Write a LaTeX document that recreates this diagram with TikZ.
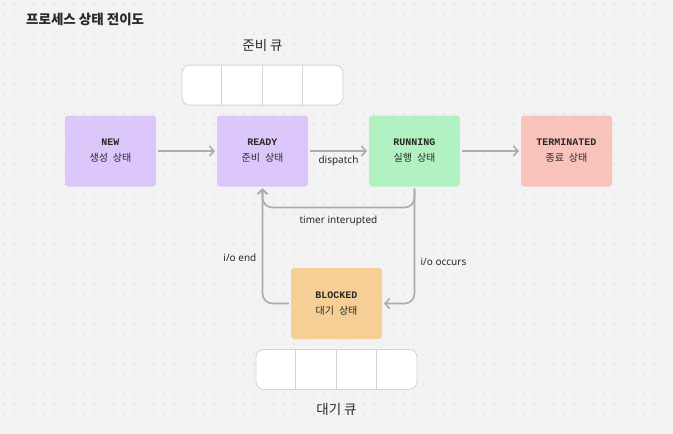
\documentclass[tikz,border=0pt]{standalone}
\usepackage{fontspec}
\setmainfont{Noto Sans}
\setmonofont{Liberation Mono}
\newfontfamily\kr{Noto Sans CJK KR}
\usepackage{xcolor}
\definecolor{bgpaper}{RGB}{243, 243, 243}
\definecolor{griddot}{RGB}{190, 190, 190}
\definecolor{textdark}{RGB}{40, 40, 40}
\definecolor{arrowgray}{RGB}{172, 172, 172}
\definecolor{queueline}{RGB}{212, 212, 212}
\definecolor{lavender}{RGB}{220, 199, 251}
\definecolor{mintgreen}{RGB}{178, 242, 194}
\definecolor{salmonred}{RGB}{248, 195, 187}
\definecolor{peach}{RGB}{246, 207, 150}
\usepackage{tikz}
\usetikzlibrary{arrows.meta, positioning}

\begin{document}
\begin{tikzpicture}[
        x=1pt, y=-1pt,
        node distance=57pt,
        state/.style={
            rectangle,
            rounded corners=3pt,
            minimum width=91pt,
            minimum height=71pt,
            align=center,
            text=textdark,
            outer sep=2pt,
            font=\fontsize{10}{16}\selectfont
        },
        queue/.style={
            rectangle,
            draw=queueline,
            line width=0.8pt,
            fill=white,
            rounded corners=8pt,
            minimum width=161pt,
            minimum height=40pt
        },
        qlabel/.style={
            inner sep=0pt,
            text=textdark,
            font=\kr\fontsize{13.5}{14}\selectfont
        },
        edgelabel/.style={
            text=textdark,
            font=\fontsize{10}{11}\selectfont
        },
        arrow/.style={
            -{Straight Barb[length=4.5pt, width=10pt]},
            line width=1.6pt,
            draw=arrowgray
        }
    ]
        % Background
        \useasboundingbox (0,0) rectangle (673,434);
        \fill[bgpaper] (0,0) rectangle (673,434);
        \foreach \i in {0,...,67} {
            \foreach \j in {0,...,43} {
                \fill[griddot] (4+10*\i, 4+10*\j) circle (0.55pt);
            }
        }

        % Title
        \node[anchor=west, inner sep=0pt, text=textdark, font=\kr\bfseries\fontsize{13.5}{14}\selectfont] (title) at (26,19) {프로세스 상태 전이도};

        % Nodes
        \node[state, fill=lavender] (new) at (110.5,151) {\texttt{\textbf{NEW}}\\{\kr 생성\enspace 상태}};
        \node[state, fill=lavender, right=of new] (ready) {\texttt{\textbf{READY}}\\{\kr 준비\enspace 상태}};
        \node[state, fill=mintgreen, right=of ready] (running) {\texttt{\textbf{RUNNING}}\\{\kr 실행\enspace 상태}};
        \node[state, fill=salmonred, right=of running] (terminated) {\texttt{\textbf{TERMINATED}}\\{\kr 종료\enspace 상태}};
        \node[state, fill=peach] (blocked) at (336.5,303.5) {\texttt{\textbf{BLOCKED}}\\{\kr 대기\enspace 상태}};

        % Queues
        \node[queue, above=8pt of ready] (readyq) {};
        \foreach \k in {1,2,3}
            \draw[queueline, line width=0.8pt] ([xshift=40.25*\k]readyq.north west) -- ([xshift=40.25*\k]readyq.south west);
        \node[qlabel, above=13pt of readyq] (readyqlabel) {준비 큐};

        \node[queue, below=8pt of blocked] (waitq) {};
        \foreach \k in {1,2,3}
            \draw[queueline, line width=0.8pt] ([xshift=40.25*\k]waitq.north west) -- ([xshift=40.25*\k]waitq.south west);
        \node[qlabel, below=13pt of waitq] (waitqlabel) {대기 큐};

        % Arrows
        \draw[arrow] (new) -- (ready);
        \draw[arrow] (ready) -- node[edgelabel, below=1pt] {dispatch} (running);
        \draw[arrow] (running) -- (terminated);
        \draw[arrow, rounded corners=10pt] (running.south) -- ++(0,19) -| node[edgelabel, pos=0.25, below=4pt] {timer interupted} (ready.south);
        \draw[arrow, rounded corners=10pt] (running.south) |- node[edgelabel, pos=0.32, right=2pt] {i/o occurs} (blocked.east);
        \draw[arrow, rounded corners=10pt] (blocked.west) -| node[edgelabel, pos=0.7, left=2pt] {i/o end} (ready.south);
\end{tikzpicture}
\end{document}
